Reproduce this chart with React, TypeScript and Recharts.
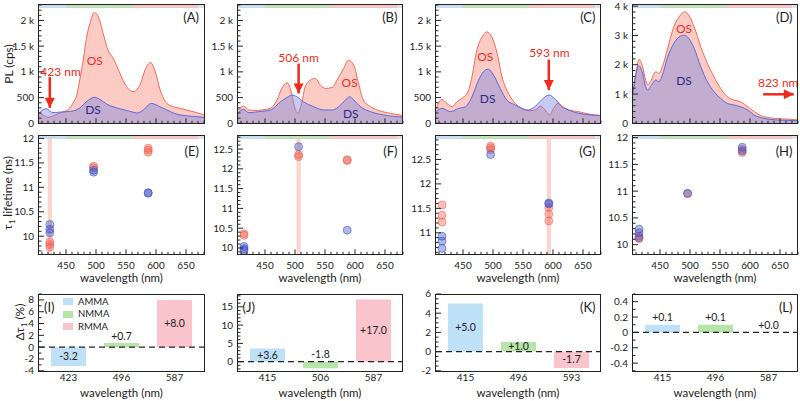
import React from 'react';
import {
  AreaChart, Area, ScatterChart, Scatter, BarChart, Bar, Cell,
  XAxis, YAxis, ReferenceArea, ReferenceLine, ReferenceDot,
} from 'recharts';

type Pt = [number, number];

// ---------- row 1: PL spectra  [wavelength nm, counts per s]
const A_OS: Pt[] = [[405, 207], [412, 160], [420, 116], [428, 140], [437, 190], [445, 220], [451, 250], [458, 320], [462, 400], [468, 550], [473, 850], [479, 1250], [484, 1650], [490, 1950], [497, 2150], [504, 2067], [512, 1744], [520, 1421], [529, 1260], [540, 969], [551, 711], [562, 614], [573, 743], [584, 1098], [591, 1182], [598, 1034], [607, 646], [618, 388], [629, 323], [640, 291], [651, 258], [662, 226], [680, 162]];
const A_DS: Pt[] = [[405, 194], [411, 260], [417, 284], [423, 240], [428, 207], [437, 215], [451, 226], [462, 240], [473, 300], [484, 420], [490, 470], [497, 504], [504, 480], [512, 420], [520, 360], [529, 320], [540, 280], [551, 250], [562, 215], [568, 200], [579, 260], [586, 340], [592, 388], [598, 370], [607, 320], [618, 260], [629, 200], [640, 162], [662, 135], [680, 116]];
const B_OS: Pt[] = [[405, 258], [409, 300], [414, 336], [419, 300], [423, 258], [437, 250], [450, 270], [459, 291], [470, 452], [478, 678], [487, 788], [493, 646], [499, 323], [505, 194], [511, 388], [517, 711], [526, 840], [534, 872], [542, 743], [551, 678], [562, 698], [570, 840], [581, 1066], [589, 1227], [598, 1131], [606, 775], [614, 452], [626, 323], [642, 239], [659, 194], [680, 150]];
const B_DS: Pt[] = [[405, 207], [414, 271], [423, 207], [439, 226], [459, 258], [476, 420], [487, 504], [495, 549], [503, 517], [514, 420], [531, 323], [548, 258], [562, 258], [576, 355], [587, 485], [591, 517], [598, 452], [609, 323], [626, 226], [648, 162], [680, 120]];
const C_OS: Pt[] = [[405, 291], [415, 465], [423, 388], [432, 323], [440, 420], [448, 485], [457, 581], [465, 904], [473, 1421], [482, 1680], [490, 1777], [498, 1680], [507, 1357], [515, 904], [526, 581], [537, 388], [548, 291], [559, 245], [571, 258], [579, 336], [587, 258], [594, 162], [601, 291], [608, 388], [615, 336], [626, 258], [643, 226], [659, 181], [680, 150]];
const C_DS: Pt[] = [[405, 226], [415, 291], [429, 226], [443, 291], [454, 323], [465, 517], [476, 840], [484, 1001], [492, 1053], [501, 937], [512, 678], [523, 452], [537, 355], [548, 291], [559, 258], [571, 336], [582, 465], [593, 549], [604, 465], [615, 323], [626, 258], [643, 194], [680, 150]];
const D_OS: Pt[] = [[405, 1136], [409, 1590], [415, 2181], [421, 1931], [426, 1477], [430, 1306], [434, 1420], [443, 1761], [448, 1704], [454, 1931], [462, 2499], [473, 3294], [484, 3692], [491, 3806], [498, 3692], [507, 3294], [518, 2613], [529, 2045], [540, 1590], [551, 1193], [562, 909], [573, 795], [584, 738], [596, 568], [607, 398], [623, 227], [646, 159], [668, 136], [680, 114]];
const D_DS: Pt[] = [[405, 1022], [409, 1590], [415, 1965], [421, 1704], [426, 1250], [430, 1136], [434, 1250], [443, 1477], [448, 1420], [454, 1647], [462, 2215], [473, 2726], [484, 2976], [491, 3010], [498, 2897], [507, 2556], [518, 1931], [529, 1420], [540, 1079], [551, 852], [562, 682], [573, 625], [584, 568], [596, 454], [607, 284], [623, 170], [646, 114], [680, 91]];

// ---------- row 2: tau1 lifetimes  [wavelength nm, ns]
const E_OS: Pt[] = [[423, 9.88], [423, 9.83], [423, 9.78], [496, 11.43], [496, 11.4], [587, 11.8], [587, 11.76], [587, 11.72]];
const E_DS: Pt[] = [[423, 10.24], [423, 10.14], [423, 10.07], [496, 11.35], [496, 11.31], [587, 10.89], [587, 10.88]];
const F_OS: Pt[] = [[415, 10.36], [415, 10.32], [506, 12.36], [506, 12.31], [587, 12.23], [587, 12.21]];
const F_DS: Pt[] = [[415, 10.04], [415, 9.98], [415, 9.94], [506, 12.56], [587, 10.45]];
const G_OS: Pt[] = [[415, 11.57], [415, 11.36], [415, 11.22], [496, 12.77], [496, 12.74], [496, 12.7], [593, 11.52], [593, 11.38], [593, 11.24]];
const G_DS: Pt[] = [[415, 10.93], [415, 10.83], [415, 10.68], [496, 12.6], [593, 11.61], [593, 11.59]];
const H_OS: Pt[] = [[415, 10.16], [415, 10.11], [496, 10.95], [587, 11.78], [587, 11.72]];
const H_DS: Pt[] = [[415, 10.29], [415, 10.22], [415, 10.13], [496, 10.96], [587, 11.82], [587, 11.75]];

// ---------- row 3: change of tau1 (%)
const I_NM = ['423', '496', '587'];
const I_DELTA = [-3.2, 0.7, 8.0];
const J_NM = ['415', '506', '587'];
const J_DELTA = [3.6, -1.8, 17.0];
const K_NM = ['415', '496', '593'];
const K_DELTA = [5.0, 1.0, -1.7];
const L_NM = ['415', '496', '587'];
const L_DELTA = [0.1, 0.1, 0.0];
const MEDIA = ['AMMA', 'NMMA', 'RMMA'];

const WL_DOMAIN: [number, number] = [405, 680];
const WL_MAJOR = [450, 500, 550, 600, 650];
const SPECTRAL_BANDS: [number, number, string][] = [[405, 450, '#c8ddf2'], [450, 560, '#c1dfb8'], [560, 670, '#f5c6c6'], [670, 680, '#dce3ea']];

// ---------- look
const FONT = 'Lato, "Noto Sans", sans-serif';
const INK = '#222';
const RED = '#ee2a1c';
const NAVY = '#2b2b86';
const OS_LINE = '#f0695a';
const DS_LINE = '#5d68dc';
const MEDIA_COLORS = ['#bfe1f8', '#b7e4a9', '#fbc3cb'];
const TICK_FS = 10;

const COL_X = [39, 237.5, 435.5, 632.5];
const PLOT_W = 165;
const ROW1 = { top: 5, h: 118.3 };
const ROW2 = { top: 135.7, h: 118.3 };
const ROW3 = { top: 294.2, h: 76.8 };
const ML = 40, MR = 4, MT = 10, MB = 30;

const steps = (a: number, b: number, s: number) => {
  const out: number[] = [];
  for (let v = a; v <= b + 1e-9; v += s) out.push(Math.round(v * 1000) / 1000);
  return out;
};
const has = (list: number[], v: number) => list.some(m => Math.abs(m - v) < 1e-6);
const box = (col: number, row: { top: number; h: number }) => ({
  left: COL_X[col] - ML, top: row.top - MT, width: PLOT_W + ML + MR, height: row.h + MT + MB,
});
const WL_TICKS = steps(410, 680, 10);

const xTick = (labels: boolean) => (p: any) => {
  const v = p.payload.value;
  const major = has(WL_MAJOR, v);
  return (
    <g>
      <line x1={p.x} x2={p.x} y1={p.y} y2={p.y - (major ? 5 : 2.5)} stroke={INK} strokeWidth={1} />
      {major && labels && (
        <text x={p.x} y={p.y + 11} dy="0.35em" textAnchor="middle" fontSize={TICK_FS} fontFamily={FONT} fill={INK}>{v}</text>
      )}
    </g>
  );
};
const yTick = (majors: number[], fmt: (v: number) => string) => (p: any) => {
  const v = p.payload.value;
  const major = has(majors, v);
  return (
    <g>
      <line x1={p.x} x2={p.x + (major ? 5 : 2.5)} y1={p.y} y2={p.y} stroke={INK} strokeWidth={1} />
      {major && (
        <text x={p.x - 5} y={p.y} dy="0.35em" textAnchor="end" fontSize={TICK_FS} fontFamily={FONT} fill={INK}>{fmt(v)}</text>
      )}
    </g>
  );
};
const kFmt = (v: number) => (v === 0 ? '0' : v >= 1000 ? `${v / 1000} k` : String(v));
const plainFmt = (v: number) => String(v);

const bandStrip = (lo: number, hi: number) =>
  SPECTRAL_BANDS.map(([a, b, c]) => (
    <ReferenceArea key={a} x1={a} x2={b} y1={hi - (hi - lo) * 0.025} y2={hi} fill={c} fillOpacity={1} stroke="none" ifOverflow="visible" />
  ));

const mergeRows = (os: Pt[], ds: Pt[]) => {
  const m = new Map<number, { wl: number; os?: number; ds?: number }>();
  os.forEach(([wl, v]) => m.set(wl, { ...(m.get(wl) || { wl }), os: v }));
  ds.forEach(([wl, v]) => m.set(wl, { ...(m.get(wl) || { wl }), ds: v }));
  return [...m.values()].sort((a, b) => a.wl - b.wl);
};

const label = (text: string, color: string, size = 12, shift = 0) => (p: any) => (
  <text x={p.cx} y={p.cy + shift} dy="0.35em" textAnchor="middle" fontSize={size} fontFamily={FONT} fill={color}>{text}</text>
);
const head = (dir: 'down' | 'right') => (p: any) => {
  const { cx, cy } = p;
  const pts = dir === 'down'
    ? `${cx},${cy} ${cx - 5},${cy - 10} ${cx + 5},${cy - 10}`
    : `${cx},${cy} ${cx - 10},${cy - 5} ${cx - 10},${cy + 5}`;
  return <polygon points={pts} fill={RED} />;
};

type Note = { os: Pt; ds: Pt; from: Pt; to: Pt; dir: 'down' | 'right'; text: string; at: Pt };
const SPECTRA = [
  { os: A_OS, ds: A_DS, ymax: 2300, majors: [0, 500, 1000, 1500, 2000], minor: 100, letter: '(A)',
    note: { os: [498, 1210], ds: [495, 270], from: [423, 900], to: [423, 300], dir: 'down', text: '423 nm', at: [441, 1000] } as Note },
  { os: B_OS, ds: B_DS, ymax: 2300, majors: [0, 500, 1000, 1500, 2000], minor: 100, letter: '(B)',
    note: { os: [591, 787], ds: [593, 194], from: [506, 1160], to: [506, 580], dir: 'down', text: '506 nm', at: [506, 1280] } as Note },
  { os: C_OS, ds: C_DS, ymax: 2300, majors: [0, 500, 1000, 1500, 2000], minor: 100, letter: '(C)',
    note: { os: [487, 1290], ds: [491, 471], from: [593, 1240], to: [593, 645], dir: 'down', text: '593 nm', at: [594, 1370] } as Note },
  { os: D_OS, ds: D_DS, ymax: 4040, majors: [0, 1000, 2000, 3000, 4000], minor: 200, letter: '(D)',
    note: { os: [490, 3230], ds: [490, 1440], from: [622, 990], to: [673, 990], dir: 'right', text: '823 nm', at: [647, 1372] } as Note },
];

const LIFETIMES = [
  { os: E_OS, ds: E_DS, dom: [9.63, 12.05], majors: [10, 10.5, 11, 11.5, 12], exc: 423, letter: '(E)' },
  { os: F_OS, ds: F_DS, dom: [9.84, 12.83], majors: [10, 10.5, 11, 11.5, 12, 12.5], exc: 506, letter: '(F)' },
  { os: G_OS, ds: G_DS, dom: [10.56, 12.98], majors: [11, 11.5, 12, 12.5], exc: 593, letter: '(G)' },
  { os: H_OS, ds: H_DS, dom: [9.82, 12.03], majors: [10, 10.5, 11, 11.5, 12], exc: 0, letter: '(H)' },
];

const CHANGES = [
  { nm: I_NM, d: I_DELTA, dom: [-4, 9], majors: [-4, -2, 0, 2, 4, 6, 8], minor: 1, letter: '(I)', left: true },
  { nm: J_NM, d: J_DELTA, dom: [-2.5, 18.5], majors: [0, 5, 10, 15], minor: 1, letter: '(J)', left: true },
  { nm: K_NM, d: K_DELTA, dom: [-2, 6], majors: [-2, 0, 2, 4, 6], minor: 0.5, letter: '(K)', left: false },
  { nm: L_NM, d: L_DELTA, dom: [-0.5, 0.5], majors: [-0.4, -0.2, 0, 0.2, 0.4], minor: 0.1, letter: '(L)', left: false },
];

function Spectrum({ col, cfg }: { col: number; cfg: (typeof SPECTRA)[number] }) {
  const b = box(col, ROW1);
  const n = cfg.note;
  return (
    <div style={{ position: 'absolute', left: b.left, top: b.top }}>
      <AreaChart width={b.width} height={b.height} data={mergeRows(cfg.os, cfg.ds)} margin={{ top: MT, right: MR, bottom: 0, left: 0 }}>
        <XAxis dataKey="wl" type="number" domain={WL_DOMAIN} allowDataOverflow ticks={WL_TICKS} interval={0}
          height={MB} axisLine={false} tickSize={0} tickMargin={0} tick={xTick(false)} />
        <YAxis type="number" domain={[0, cfg.ymax]} allowDataOverflow ticks={steps(0, cfg.ymax, cfg.minor)} interval={0}
          width={ML} axisLine={false} tickSize={0} tickMargin={0} tick={yTick(cfg.majors, kFmt)} />
        {bandStrip(0, cfg.ymax)}
        <Area dataKey="os" type="monotone" connectNulls stroke={OS_LINE} strokeWidth={1} fill="#f47c6c" fillOpacity={0.4}
          dot={false} activeDot={false} isAnimationActive={false} />
        <Area dataKey="ds" type="monotone" connectNulls stroke={DS_LINE} strokeWidth={1} fill="#6f7ee0" fillOpacity={0.4}
          dot={false} activeDot={false} isAnimationActive={false} />
        <ReferenceDot x={n.os[0]} y={n.os[1]} shape={label('OS', RED)} />
        <ReferenceDot x={n.ds[0]} y={n.ds[1]} shape={label('DS', NAVY)} />
        <ReferenceLine segment={[{ x: n.from[0], y: n.from[1] }, { x: n.to[0], y: n.to[1] }]} stroke={RED} strokeWidth={2.5} />
        <ReferenceDot x={n.to[0]} y={n.to[1]} shape={head(n.dir)} />
        <ReferenceDot x={n.at[0]} y={n.at[1]} shape={label(n.text, RED)} />
      </AreaChart>
    </div>
  );
}

const dot = (color: string) => (p: any) => (
  <circle cx={p.cx} cy={p.cy} r={4} fill={color} fillOpacity={0.4} stroke={color} strokeOpacity={0.55} strokeWidth={1} />
);

function Lifetime({ col, cfg }: { col: number; cfg: (typeof LIFETIMES)[number] }) {
  const b = box(col, ROW2);
  const [lo, hi] = cfg.dom;
  const toRows = (pts: Pt[]) => pts.map(([wl, t]) => ({ wl, t }));
  return (
    <div style={{ position: 'absolute', left: b.left, top: b.top }}>
      <ScatterChart width={b.width} height={b.height} margin={{ top: MT, right: MR, bottom: 0, left: 0 }}>
        <XAxis dataKey="wl" type="number" domain={WL_DOMAIN} allowDataOverflow ticks={WL_TICKS} interval={0}
          height={MB} axisLine={false} tickSize={0} tickMargin={0} tick={xTick(true)} />
        <YAxis dataKey="t" type="number" domain={[lo, hi]} allowDataOverflow ticks={steps(Math.ceil(lo * 10) / 10, hi, 0.1)} interval={0}
          width={ML} axisLine={false} tickSize={0} tickMargin={0} tick={yTick(cfg.majors, plainFmt)} />
        {cfg.exc > 0 && (
          <ReferenceArea x1={cfg.exc - 3.5} x2={cfg.exc + 3.5} y1={lo} y2={hi} fill="#f6b8ae" fillOpacity={0.6} stroke="none" />
        )}
        {bandStrip(lo, hi)}
        <Scatter data={toRows(cfg.os)} shape={dot('#f0604e')} isAnimationActive={false} />
        <Scatter data={toRows(cfg.ds)} shape={dot('#3d50c4')} isAnimationActive={false} />
      </ScatterChart>
    </div>
  );
}

const signed = (v: number) => (v >= 0 ? `+${v.toFixed(1)}` : v.toFixed(1));

function Change({ col, cfg }: { col: number; cfg: (typeof CHANGES)[number] }) {
  const b = box(col, ROW3);
  const rows = cfg.nm.map((nm, i) => ({ nm, d: cfg.d[i] }));
  const [lo, hi] = cfg.dom;
  // values whose bar is tall enough carry their label inside, others above
  const inside = (d: number) => (Math.abs(d) / (hi - lo)) * ROW3.h > 8.5;
  return (
    <div style={{ position: 'absolute', left: b.left, top: b.top }}>
      <BarChart width={b.width} height={b.height} data={rows} margin={{ top: MT, right: MR, bottom: 0, left: 0 }} barCategoryGap="17%">
        <XAxis dataKey="nm" type="category" height={MB} axisLine={false} tickLine={false} tickSize={0} tickMargin={0} interval={0}
          padding={{ left: 3, right: 3 }}
          tick={(p: any) => (
            <text x={p.x} y={p.y + 7} dy="0.35em" textAnchor="middle" fontSize={TICK_FS} fontFamily={FONT} fill={INK}>{p.payload.value}</text>
          )} />
        <YAxis type="number" domain={[lo, hi]} allowDataOverflow ticks={steps(Math.ceil(lo / cfg.minor) * cfg.minor, hi, cfg.minor)} interval={0}
          width={ML} axisLine={false} tickSize={0} tickMargin={0} tick={yTick(cfg.majors, plainFmt)} />
        <Bar dataKey="d" isAnimationActive={false}>
          {rows.map((r, i) => <Cell key={r.nm} fill={MEDIA_COLORS[i]} />)}
        </Bar>
        <ReferenceLine y={0} stroke={INK} strokeDasharray="6 4" strokeWidth={1.3} />
        {rows.map(r => (
          <ReferenceDot key={r.nm} x={r.nm} y={inside(r.d) ? r.d / 2 : Math.max(r.d, 0)}
            shape={label(signed(r.d), INK, 10.5, inside(r.d) ? 0 : -7)} />
        ))}
      </BarChart>
    </div>
  );
}

function Txt({ x, y, children, anchor = 'middle', size = 12, color = INK, rotate = false }: any) {
  const tx = anchor === 'middle' ? '-50%' : anchor === 'end' ? '-100%' : '0';
  return (
    <div style={{
      position: 'absolute', left: x, top: y, fontFamily: FONT, fontSize: size, color, lineHeight: 1, whiteSpace: 'nowrap',
      transform: `translate(${tx}, -50%)${rotate ? ' rotate(-90deg)' : ''}`, transformOrigin: rotate ? 'center' : undefined,
    }}>{children}</div>
  );
}

export default function App() {
  const rows = [ROW1, ROW2, ROW3];
  return (
    <div style={{ position: 'absolute', left: 0, top: 0, width: 800, height: 401, background: '#fff', overflow: 'hidden' }}>
      {SPECTRA.map((c, i) => <Spectrum key={c.letter} col={i} cfg={c} />)}
      {LIFETIMES.map((c, i) => <Lifetime key={c.letter} col={i} cfg={c} />)}
      {CHANGES.map((c, i) => <Change key={c.letter} col={i} cfg={c} />)}

      {rows.map((r, ri) => COL_X.map(x => (
        <div key={`${ri}-${x}`} style={{
          position: 'absolute', left: x - 0.7, top: r.top - 0.7, width: PLOT_W + 1.4, height: r.h + 1.4,
          border: `1.4px solid ${INK}`, boxSizing: 'border-box', pointerEvents: 'none',
        }} />
      )))}

      {SPECTRA.map((c, i) => (
        <Txt key={c.letter} x={COL_X[i] + PLOT_W - 5} y={ROW1.top + 12} anchor="end" size={13}>{c.letter}</Txt>
      ))}
      {LIFETIMES.map((c, i) => (
        <Txt key={c.letter} x={COL_X[i] + PLOT_W - 5} y={ROW2.top + 15} anchor="end" size={13}>{c.letter}</Txt>
      ))}
      {CHANGES.map((c, i) => (
        <Txt key={c.letter} x={c.left ? COL_X[i] + 5 : COL_X[i] + PLOT_W - 5} y={ROW3.top + 13} anchor={c.left ? 'start' : 'end'} size={13}>{c.letter}</Txt>
      ))}

      {COL_X.map(x => (
        <React.Fragment key={x}>
          <Txt x={x + PLOT_W / 2} y={ROW2.top + ROW2.h + 24} size={11.5}>wavelength (nm)</Txt>
          <Txt x={x + PLOT_W / 2} y={ROW3.top + ROW3.h + 22} size={11.5}>wavelength (nm)</Txt>
        </React.Fragment>
      ))}

      <Txt x={9} y={64} rotate size={12}>PL (cps)</Txt>
      <Txt x={9} y={193} rotate size={12}>τ<sub style={{ fontSize: 8 }}>1</sub> lifetime (ns)</Txt>
      <Txt x={21} y={322} rotate size={12}>Δτ<sub style={{ fontSize: 8 }}>1</sub> (%)</Txt>

      {MEDIA.map((m, i) => (
        <div key={m} style={{ position: 'absolute', left: 63, top: 297 + i * 12.3, display: 'flex', alignItems: 'center', fontFamily: FONT, fontSize: 9.5, color: INK, lineHeight: 1 }}>
          <span style={{ display: 'inline-block', width: 10, height: 7, background: MEDIA_COLORS[i], marginRight: 5 }} />
          {m}
        </div>
      ))}
    </div>
  );
}
